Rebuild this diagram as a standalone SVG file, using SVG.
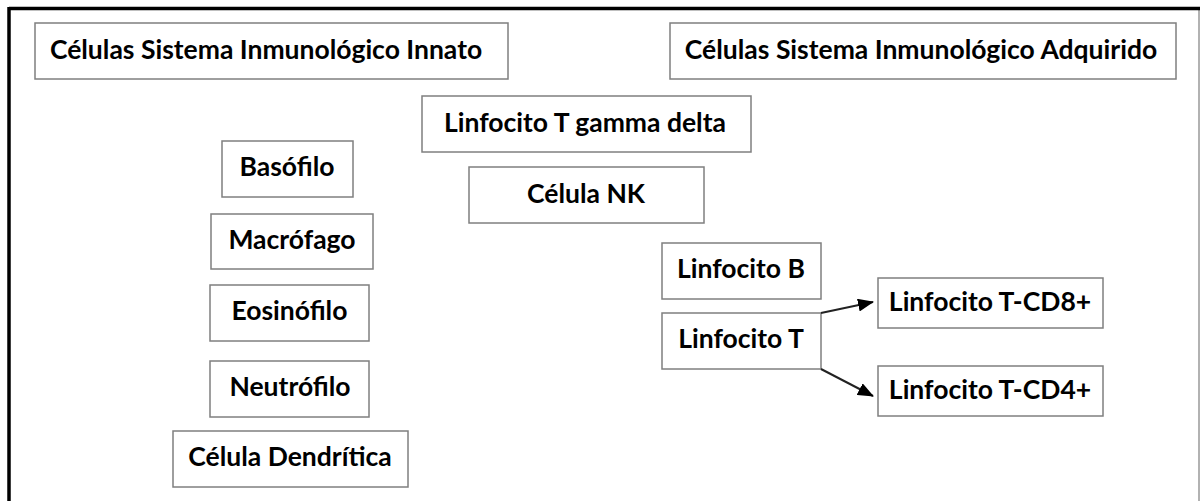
<svg xmlns="http://www.w3.org/2000/svg" width="1201" height="501" viewBox="0 0 1201 501">
<style>
.box{fill:#fff;stroke:#7f7f7f;stroke-width:1.5}
.lbl{font-family:Lato,"Open Sans","Liberation Sans",sans-serif;font-weight:bold;font-size:26.5px;fill:#000;text-anchor:middle}
.conn{stroke:#222;stroke-width:2;fill:none}
</style>
<defs>
<marker id="ah" markerWidth="16" markerHeight="13" refX="15" refY="6.5" orient="auto" markerUnits="userSpaceOnUse">
<path d="M0,0 L16,6.5 L0,13 Z" fill="#000"/>
</marker>
</defs>
<rect x="0" y="0" width="1201" height="501" fill="#fff"/>
<g id="frame">
<line x1="1199" y1="10" x2="1199" y2="501" stroke="#999" stroke-width="1.5"/>
<line x1="9" y1="8.5" x2="1200" y2="8.5" stroke="#000" stroke-width="3.5"/>
<line x1="9" y1="7" x2="9" y2="501" stroke="#000" stroke-width="3.5"/>
</g>
<g id="innato"><rect class="box" x="35" y="23" width="473" height="56"/><text class="lbl" x="266" y="59">Células Sistema Inmunológico Innato</text></g>
<g id="adquirido"><rect class="box" x="670" y="23" width="506" height="56"/><text class="lbl" x="921" y="59">Células Sistema Inmunológico Adquirido</text></g>
<g id="gammadelta"><rect class="box" x="422" y="96" width="329" height="56"/><text class="lbl" x="585" y="132">Linfocito T gamma delta</text></g>
<g id="nk"><rect class="box" x="469" y="167" width="235" height="56"/><text class="lbl" x="586" y="203">Célula NK</text></g>
<g id="basofilo"><rect class="box" x="222" y="141" width="131" height="56"/><text class="lbl" x="287" y="176">Basófilo</text></g>
<g id="macrofago"><rect class="box" x="211" y="214" width="162" height="55"/><text class="lbl" x="292" y="249">Macrófago</text></g>
<g id="eosinofilo"><rect class="box" x="210" y="285" width="159" height="56"/><text class="lbl" x="289.5" y="320">Eosinófilo</text></g>
<g id="neutrofilo"><rect class="box" x="210" y="361" width="159" height="56"/><text class="lbl" x="290" y="396">Neutrófilo</text></g>
<g id="dendritica"><rect class="box" x="173" y="431" width="235" height="56"/><text class="lbl" x="290" y="466">Célula Dendrítica</text></g>
<g id="linfB"><rect class="box" x="662" y="243" width="159" height="56"/><text class="lbl" x="741" y="278">Linfocito B</text></g>
<g id="linfT"><rect class="box" x="662" y="313" width="159" height="56"/><text class="lbl" x="741" y="348">Linfocito T</text></g>
<g id="cd8"><rect class="box" x="878" y="278" width="225" height="50"/><text class="lbl" x="990" y="311">Linfocito T-CD8+</text></g>
<g id="cd4"><rect class="box" x="878" y="366" width="225" height="50"/><text class="lbl" x="990" y="399">Linfocito T-CD4+</text></g>
<g id="connectors">
<line class="conn" x1="821" y1="313" x2="873" y2="302" marker-end="url(#ah)"/>
<line class="conn" x1="821" y1="369" x2="873" y2="396" marker-end="url(#ah)"/>
</g>
</svg>
